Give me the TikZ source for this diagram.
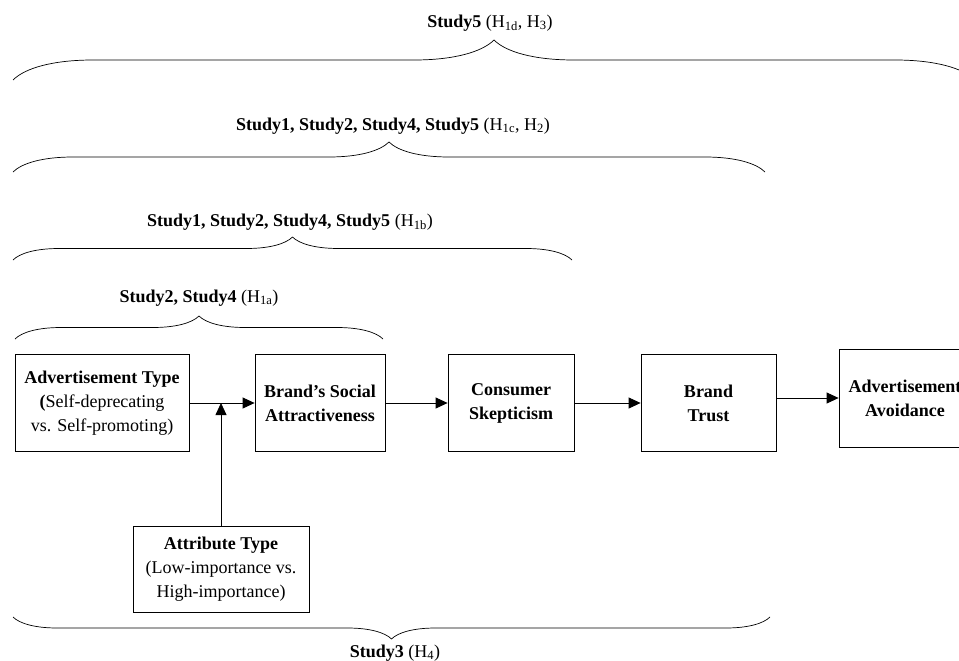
\documentclass[tikz,border=0pt]{standalone}
\usepackage{fontspec}
\setmainfont{Liberation Serif}
\usetikzlibrary{arrows.meta, positioning, decorations.pathreplacing}

\begin{document}
\begin{tikzpicture}[x=1pt, y=-1pt,
  box/.style={draw, line width=0.8pt, align=center, inner sep=2pt, minimum height=97pt, font=\fontsize{18}{24}\selectfont},
  arr/.style={-{Triangle[length=12pt, width=11pt]}, line width=0.8pt},
  brc/.style={decorate, decoration={brace, amplitude=2*#1, transform={yscale=0.5}}, line width=0.7pt},
  lbl/.style={font=\fontsize{18}{22}\selectfont}]
  \useasboundingbox (0,0) rectangle (959,661);
  \clip (0,0) rectangle (959,661);
  % Boxes
  \node[box, minimum width=174pt] (adtype) at (102,403) {\textbf{Advertisement Type}\\\textbf{(}Self-deprecating\\vs. Self-promoting)};
  \node[box, minimum width=130pt] (social) at (320,403) {\textbf{Brand’s Social}\\\textbf{Attractiveness}};
  \node[box, minimum width=126pt] (skept) at (511,403) {\textbf{Consumer}\\\textbf{Skepticism}};
  \node[box, minimum width=135pt] (trust) at (708.5,403) {\textbf{Brand}\\\textbf{Trust}};
  \node[box, minimum width=132pt, minimum height=98pt] (avoid) at (905,398) {\textbf{Advertisement}\\\textbf{Avoidance}};
  \node[box, minimum width=176pt, minimum height=86pt] (attr) at (221,569) {\textbf{Attribute Type}\\(Low-importance vs.\\High-importance)};
  % Arrows
  \draw[arr] (adtype.east) -- (social.west);
  \draw[arr] (social.east) -- (skept.west);
  \draw[arr] (skept.east) -- (trust.west);
  \draw[arr] (trust.east |- avoid.west) -- (avoid.west);
  \coordinate (join) at (attr.north |- adtype.east);
  \draw[arr] (attr.north) -- (join);
  % Braces
  \draw[brc=40pt] (13,80) -- (975,80);
  \node[lbl] (s5) at (490,23) {\textbf{Study5} (H\textsubscript{1d}, H\textsubscript{3})};
  \draw[brc=30pt] (13,172) -- (765,172);
  \node[lbl] (s1c) at (393,126) {\textbf{Study1, Study2, Study4, Study5} (H\textsubscript{1c}, H\textsubscript{2})};
  \draw[brc=23pt] (13,260) -- (572,260);
  \node[lbl] (s1b) at (290,222) {\textbf{Study1, Study2, Study4, Study5} (H\textsubscript{1b})};
  \draw[brc=23pt] (15,339) -- (383,339);
  \node[lbl] (s1a) at (199,298) {\textbf{Study2, Study4} (H\textsubscript{1a})};
  \draw[brc=22pt] (770,617) -- (13,617);
  \node[lbl] (s3) at (395,653) {\textbf{Study3} (H\textsubscript{4})};
\end{tikzpicture}
\end{document}
